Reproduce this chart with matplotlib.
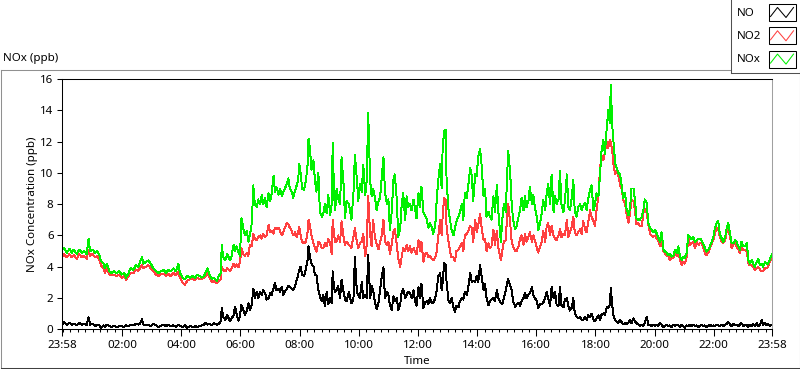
import matplotlib
matplotlib.use("Agg")
import matplotlib.pyplot as plt
from matplotlib.lines import Line2D
from matplotlib.patches import Rectangle

plt.rcParams['font.family'] = ['Noto Sans', 'DejaVu Sans']

# time of each sample, minutes after midnight (23:58 of the day before = -2)
minutes = [
    -2, 2, 8, 13, 18, 22, 28, 33, 38, 43, 48, 52, 55, 60, 65, 70, 74, 77, 82, 85,
    89, 94, 99, 103, 109, 114, 119, 124, 128, 133, 137, 143, 148, 153, 156, 160, 163, 168, 173, 178,
    183, 189, 193, 198, 204, 209, 214, 218, 224, 229, 234, 237, 243, 247, 252, 258, 263, 268, 272, 278,
    281, 286, 289, 293, 297, 302, 306, 312, 316, 320, 322, 325, 329, 333, 339, 342, 346, 349, 352, 356,
    359, 362, 366, 369, 373, 376, 379, 383, 386, 389, 393, 396, 400, 403, 406, 410, 413, 417, 420, 423,
    427, 430, 433, 437, 440, 444, 447, 450, 454, 457, 460, 464, 467, 471, 474, 477, 479, 482, 485, 489,
    493, 496, 498, 501, 504, 508, 511, 514, 518, 521, 525, 528, 531, 535, 538, 542, 545, 547, 550, 552,
    555, 558, 562, 565, 569, 572, 575, 580, 585, 589, 592, 596, 599, 602, 606, 609, 613, 616, 619, 623,
    626, 629, 633, 636, 640,
    643, 646, 650, 653, 657, 660, 663, 667, 670, 673, 677, 680, 684, 687, 690, 694, 697, 700, 704, 707,
    711, 714, 717, 721, 724, 727, 731, 734, 738, 741, 744, 748, 751, 755, 758, 761, 765, 768, 770, 773,
    776, 778, 782, 785, 788, 792, 795, 798, 802, 805, 809, 812, 815, 819, 822, 826, 829, 832, 836, 839,
    842, 846, 849, 853, 856, 859, 863, 866, 869, 873, 876, 880, 883, 888, 891, 894, 898, 901, 903, 907,
    910, 913, 917, 920, 924, 927, 930, 934, 937, 940, 944, 947, 951, 954, 957, 961, 964, 967, 971, 974,
    978, 981, 984, 988, 991, 995, 998, 1001, 1005,
    1008, 1011, 1015, 1018, 1022, 1025, 1028, 1032, 1035, 1038, 1042, 1045, 1049, 1052, 1055, 1059, 1062, 1065, 1069, 1072,
    1076, 1079, 1082, 1086, 1089, 1092, 1096, 1099, 1103, 1106, 1109, 1111, 1114, 1116, 1120, 1123, 1126, 1130, 1133, 1136,
    1140, 1143, 1147, 1150, 1153, 1157, 1160, 1163, 1167, 1170, 1174, 1177, 1180, 1184, 1187, 1191, 1194, 1197, 1201, 1204,
    1207, 1211, 1214, 1218, 1221, 1224, 1228, 1231, 1234, 1238, 1241, 1245, 1248, 1251, 1255, 1258, 1261, 1265, 1268, 1272,
    1275, 1278, 1282, 1285, 1289, 1292, 1295, 1299, 1302, 1305, 1309, 1312, 1316, 1319, 1322, 1326, 1329, 1332, 1336, 1339,
    1343, 1346, 1349, 1353, 1356, 1360, 1363, 1366, 1370, 1373, 1376, 1380, 1383, 1387, 1390, 1393, 1397, 1400, 1403, 1407,
    1410, 1414, 1417, 1420, 1424, 1427, 1430, 1434, 1437, 1438,
]

nox = [
    5.1, 5.2, 4.9, 5.15, 4.9, 5.1, 4.8, 5.1, 4.9, 5.0, 4.8, 5.8, 5.0, 5.1, 4.9, 5.0, 4.7, 4.4, 4.2, 3.9,
    4.2, 3.7, 3.6, 3.7, 3.6, 3.7, 3.5, 3.6, 3.3, 3.6, 3.9, 3.8, 4.1, 4.0, 4.3, 4.6, 4.2, 4.3, 4.4, 4.2,
    3.9, 3.7, 3.6, 3.7, 3.8, 3.6, 3.8, 3.7, 3.9, 3.7, 4.2, 3.6, 3.3, 3.2, 3.4, 3.3, 3.4, 3.3, 3.5, 3.4,
    3.3, 3.4, 3.6, 3.9, 3.5, 3.2, 3.3, 3.1, 3.4, 3.6, 5.4, 4.6, 4.4, 4.8, 4.4, 4.7, 5.4, 5.0, 5.3, 4.9,
    4.7, 7.1, 6.4, 6.0, 6.3, 5.6, 6.0, 6.8, 9.2, 8.0, 7.8, 8.3, 8.0, 8.6, 8.0, 8.4, 7.8, 8.7, 8.2, 8.6,
    9.8, 8.8, 9.1, 8.6, 9.0, 8.5, 8.8, 9.0, 9.3, 9.65, 9.0, 8.8, 8.4, 8.9, 9.2, 9.5, 10.6, 10.0, 9.0, 8.9,
    9.6, 10.5, 12.2, 11.5, 10.2, 10.8, 9.5, 8.8, 10.0, 7.5, 7.2, 7.4, 8.0, 7.4, 8.6, 7.3, 8.0, 11.9, 8.5, 7.6,
    9.0, 8.4, 8.0, 11.0, 9.3, 7.1, 8.2, 8.0, 7.0, 8.6, 11.15, 9.6, 8.2, 9.3, 8.8, 10.5, 8.6, 9.5, 13.8, 9.5,
    8.5, 9.0, 8.4, 7.6, 8.2,
    8.4, 9.5, 11.0, 8.8, 8.0, 8.3, 6.35, 7.6, 9.5, 9.9, 8.3, 5.9, 6.5, 8.0, 8.7, 7.0, 8.5, 7.8, 8.0, 7.6,
    8.3, 7.7, 7.1, 8.7, 7.8, 9.1, 7.5, 7.3, 7.0, 6.5, 6.8, 6.5, 6.1, 6.6, 8.3, 9.5, 10.6, 9.0, 11.6, 12.65,
    12.75, 9.5, 7.6, 7.0, 6.35, 6.0, 6.5, 6.9, 7.2, 7.5, 8.0, 7.0, 8.7, 8.4, 9.2, 10.3, 9.8, 8.2, 9.9, 9.8,
    11.0, 11.5, 10.5, 8.5, 9.0, 7.2, 7.5, 7.2, 7.0, 8.5, 7.5, 9.2, 7.5, 5.6, 7.0, 8.0, 7.5, 10.0, 11.4, 10.0,
    8.0, 7.0, 6.4, 6.6, 7.2, 7.6, 8.4, 7.6, 8.5, 7.8, 8.2, 9.1, 8.0, 8.6, 7.8, 7.2, 6.35, 6.7, 7.4, 8.3,
    7.6, 8.7, 9.3, 8.0, 9.9, 7.5, 8.5, 8.0, 8.3,
    10.1, 8.0, 7.5, 8.2, 9.9, 7.8, 7.6, 8.4, 9.55, 7.5, 7.2, 7.8, 8.0, 7.6, 7.9, 8.1, 7.6, 8.3, 8.9, 9.2,
    7.6, 8.0, 8.7, 8.5, 9.8, 11.3, 12.1, 11.2, 12.96, 14.0, 13.2, 15.6, 13.0, 12.2, 10.6, 10.3, 10.0, 9.9, 9.2, 8.4,
    8.7, 7.7, 7.3, 7.7, 9.0, 9.0, 8.3, 7.1, 7.0, 7.0, 7.2, 7.6, 8.3, 8.06, 6.8, 6.46, 6.35, 6.2, 6.35, 6.14,
    5.9, 5.6, 6.2, 5.07, 4.97, 4.9, 4.75, 4.8, 4.65, 4.7, 5.07, 4.9, 5.3, 4.7, 4.43, 4.65, 4.55, 4.9, 6.0, 5.9,
    5.75, 5.9, 5.6, 5.7, 5.8, 5.8, 5.7, 5.4, 5.2, 4.97, 5.1, 5.3, 5.6, 5.9, 6.46, 6.8, 6.9, 6.14, 5.8, 5.6,
    5.9, 6.46, 6.8, 6.14, 5.5, 5.5, 5.7, 5.6, 5.3, 5.07, 5.6, 5.3, 5.3, 5.5, 4.43, 4.2, 4.45, 4.2, 4.0, 4.3,
    4.5, 4.1, 4.2, 4.0, 4.3, 4.2, 4.2, 4.5, 4.7, 4.8,
]

no2 = [
    4.6, 4.8, 4.6, 4.8, 4.6, 4.75, 4.5, 4.8, 4.6, 4.7, 4.5, 5.1, 4.7, 4.8, 4.6, 4.7, 4.4, 4.1, 3.9, 3.6,
    3.9, 3.5, 3.45, 3.5, 3.4, 3.5, 3.3, 3.4, 3.15, 3.4, 3.6, 3.6, 3.8, 3.75, 3.9, 4.1, 3.9, 4.0, 4.1, 3.9,
    3.7, 3.5, 3.4, 3.5, 3.55, 3.4, 3.55, 3.4, 3.6, 3.45, 3.7, 3.3, 2.95, 2.85, 3.1, 3.2, 3.2, 3.15, 3.3, 3.2,
    3.2, 3.3, 3.4, 3.6, 3.3, 3.0, 3.1, 2.95, 3.1, 3.2, 4.0, 3.8, 3.7, 3.9, 3.75, 3.9, 4.2, 4.0, 4.15, 3.95,
    4.3, 5.2, 4.8, 4.7, 4.9, 4.7, 5.4, 5.3, 6.1, 5.8, 5.7, 5.9, 6.0, 5.8, 6.1, 5.9, 6.0, 6.7, 6.2, 6.3,
    6.1, 6.5, 6.4, 6.5, 6.3, 6.0, 6.2, 6.5, 6.8, 6.7, 6.5, 6.3, 6.0, 6.2, 5.9, 6.2, 6.56, 6.0, 5.6, 5.5,
    5.6, 6.2, 7.0, 6.6, 6.0, 5.5, 5.2, 4.97, 5.6, 5.5, 5.2, 5.2, 5.5, 5.3, 5.8, 5.5, 4.8, 7.0, 6.0, 5.6,
    5.6, 6.0, 5.6, 6.9, 5.9, 5.4, 5.6, 5.4, 5.2, 5.9, 6.46, 5.6, 5.2, 5.5, 5.6, 6.1, 4.65, 5.4, 8.5, 6.0,
    5.3, 7.0, 5.8, 5.5, 5.1,
    5.6, 5.9, 7.0, 5.6, 5.4, 5.6, 4.8, 5.5, 6.2, 6.4, 5.4, 4.5, 4.0, 4.65, 5.2, 5.0, 5.4, 5.0, 5.3, 4.9,
    5.2, 4.97, 4.8, 5.7, 5.0, 5.6, 4.33, 4.8, 4.9, 4.6, 4.7, 4.5, 4.4, 4.6, 5.0, 5.9, 7.0, 6.0, 7.2, 8.4,
    8.3, 6.5, 5.6, 5.0, 4.6, 4.6, 4.35, 5.0, 5.1, 5.3, 5.5, 5.0, 6.0, 6.1, 6.3, 6.6, 6.5, 5.6, 7.0, 6.2,
    6.6, 7.4, 6.5, 5.7, 5.8, 5.0, 5.5, 5.2, 5.3, 6.35, 5.4, 6.3, 5.2, 4.4, 5.0, 5.6, 5.7, 7.4, 8.0, 6.8,
    5.6, 5.3, 5.0, 5.0, 5.3, 5.8, 6.0, 5.4, 6.1, 5.6, 5.9, 6.2, 5.6, 6.0, 5.7, 5.2, 4.9, 5.2, 5.6, 6.3,
    5.6, 6.6, 6.8, 6.0, 6.6, 6.0, 5.8, 5.7, 6.0,
    6.4, 5.9, 6.1, 6.0, 7.0, 5.9, 6.2, 6.6, 7.2, 6.2, 6.0, 6.2, 6.4, 6.1, 6.9, 6.4, 6.2, 6.8, 7.6, 7.2,
    6.9, 6.6, 7.6, 8.5, 10.2, 11.15, 10.8, 11.3, 12.0, 11.6, 12.1, 12.0, 11.4, 10.6, 9.9, 10.1, 9.9, 9.2, 9.0, 8.3,
    8.06, 7.4, 6.8, 7.4, 8.3, 8.2, 7.6, 6.7, 6.8, 6.6, 6.6, 7.4, 7.7, 7.4, 6.7, 6.1, 6.0, 5.9, 6.0, 5.8,
    5.7, 5.3, 5.6, 4.97, 4.86, 4.75, 4.65, 4.43, 4.55, 4.6, 4.86, 4.7, 4.97, 4.5, 4.1, 4.3, 4.2, 4.6, 5.9, 5.4,
    5.5, 5.6, 5.2, 5.6, 5.4, 5.5, 5.5, 5.2, 4.86, 4.75, 4.9, 5.2, 5.5, 5.7, 6.1, 6.46, 6.4, 5.9, 5.6, 5.5,
    5.7, 6.25, 6.46, 5.9, 5.2, 5.4, 5.6, 5.3, 5.1, 4.86, 5.3, 5.07, 5.1, 5.0, 4.2, 4.1, 4.1, 4.0, 3.8, 3.9,
    4.0, 3.8, 3.7, 3.75, 3.9, 3.9, 4.0, 4.4, 4.5, 4.55,
]

no = [
    0.3, 0.45, 0.3, 0.4, 0.3, 0.35, 0.25, 0.4, 0.3, 0.35, 0.25, 0.77, 0.3, 0.35, 0.2, 0.3, 0.25, 0.1, 0.25, 0.15,
    0.3, 0.2, 0.15, 0.2, 0.15, 0.2, 0.2, 0.15, 0.25, 0.2, 0.3, 0.25, 0.35, 0.3, 0.35, 0.64, 0.3, 0.25, 0.3, 0.2,
    0.35, 0.25, 0.15, 0.2, 0.3, 0.2, 0.3, 0.2, 0.25, 0.15, 0.3, 0.2, 0.15, 0.25, 0.1, 0.2, 0.15, 0.2, 0.15, 0.2,
    0.25, 0.3, 0.4, 0.3, 0.35, 0.25, 0.4, 0.3, 0.35, 0.5, 1.34, 0.8, 0.6, 0.9, 0.5, 0.7, 0.9, 1.45, 1.0, 0.55,
    0.9, 1.55, 1.2, 0.9, 1.2, 1.66, 1.2, 1.6, 2.6, 2.0, 2.4, 2.0, 2.4, 2.2, 2.5, 2.3, 1.9, 2.0, 2.3, 2.2,
    2.6, 2.95, 2.5, 2.6, 2.4, 2.7, 2.2, 2.4, 2.6, 2.8, 2.7, 2.6, 2.5, 2.8, 3.15, 3.5, 3.8, 4.0, 3.5, 3.4,
    3.9, 4.4, 5.3, 4.6, 4.2, 4.0, 3.5, 3.5, 2.5, 2.1, 1.8, 2.2, 1.5, 2.4, 1.6, 2.0, 1.7, 3.7, 2.6, 2.4,
    2.5, 2.8, 2.0, 3.15, 2.4, 1.9, 1.8, 2.4, 1.65, 1.9, 4.6, 2.4, 2.2, 2.0, 3.0, 2.0, 2.2, 2.0, 4.75, 2.0,
    2.8, 2.5, 1.66, 1.3, 1.7,
    2.5, 3.26, 3.97, 2.0, 2.4, 2.2, 1.55, 1.24, 2.1, 1.8, 2.0, 1.24, 1.6, 2.4, 2.6, 2.0, 2.2, 2.4, 2.3, 2.0,
    2.5, 1.8, 1.5, 2.7, 2.0, 2.9, 1.34, 1.7, 1.8, 1.6, 2.0, 1.7, 1.66, 2.0, 2.5, 3.37, 3.58, 2.5, 3.0, 4.22,
    4.1, 3.0, 1.8, 1.7, 2.0, 1.4, 1.13, 1.5, 1.4, 1.8, 2.0, 1.9, 2.4, 2.2, 2.7, 3.58, 3.0, 3.1, 3.05, 3.4,
    3.0, 4.1, 3.4, 2.5, 2.9, 2.0, 1.55, 1.8, 1.9, 2.0, 1.8, 2.5, 2.0, 1.7, 1.6, 2.0, 2.5, 3.0, 3.2, 2.8,
    2.5, 1.8, 1.45, 1.6, 1.7, 1.5, 1.8, 2.0, 2.3, 2.0, 2.2, 2.3, 2.7, 2.2, 2.0, 1.8, 1.34, 1.6, 1.6, 1.7,
    2.0, 2.4, 2.0, 1.5, 2.7, 2.0, 2.4, 1.6, 1.5,
    2.7, 1.55, 1.4, 1.9, 2.0, 1.5, 1.2, 1.4, 2.0, 1.0, 0.81, 0.7, 0.8, 0.6, 0.6, 0.8, 0.6, 0.9, 0.8, 1.0,
    0.6, 0.5, 0.7, 0.9, 0.6, 0.9, 1.02, 0.9, 1.45, 1.34, 1.56, 2.62, 1.6, 0.9, 0.6, 0.5, 0.38, 0.6, 0.45, 0.32,
    0.4, 0.35, 0.45, 0.6, 0.4, 0.7, 0.5, 0.4, 0.3, 0.21, 0.3, 0.2, 0.4, 0.77, 0.3, 0.3, 0.2, 0.3, 0.2, 0.3,
    0.2, 0.4, 0.3, 0.13, 0.2, 0.3, 0.2, 0.25, 0.15, 0.3, 0.2, 0.3, 0.25, 0.15, 0.3, 0.2, 0.1, 0.25, 0.2, 0.3,
    0.2, 0.3, 0.2, 0.25, 0.15, 0.2, 0.3, 0.2, 0.25, 0.15, 0.2, 0.3, 0.2, 0.25, 0.2, 0.3, 0.25, 0.2, 0.3, 0.2,
    0.3, 0.35, 0.49, 0.3, 0.2, 0.35, 0.25, 0.3, 0.2, 0.3, 0.4, 0.2, 0.3, 0.25, 0.15, 0.3, 0.2, 0.35, 0.2, 0.4,
    0.2, 0.3, 0.6, 0.3, 0.4, 0.25, 0.35, 0.2, 0.3, 0.3,
]

series_names = ['NO', 'NO2', 'NOx']
series_colors = ['black', '#ff4040', '#00f000']

tick_minutes = [-2, 120, 240, 360, 480, 600, 720, 840, 960, 1080, 1200, 1320, 1438]
tick_labels = ['23:58', '02:00', '04:00', '06:00', '08:00', '10:00', '12:00',
               '14:00', '16:00', '18:00', '20:00', '22:00', '23:58']

W, H = 800, 369


def fx(x):
    return x / W


def fy(y):
    return 1 - y / H


fig = plt.figure(figsize=(W / 100, H / 100), dpi=100)
ax = fig.add_axes([fx(62), fy(329.3), 710 / W, 250.3 / H])

for vals, col in zip([no, no2, nox], series_colors):
    ax.plot(minutes, vals, color=col, lw=0.7, antialiased=False)

ax.set_xlim(-2, 1438)
ax.set_ylim(0, 16)
ax.set_xticks(tick_minutes)
ax.set_xticklabels(tick_labels)
ax.set_xticks(list(range(0, 1440, 15)), minor=True)
ax.set_yticks(range(0, 17, 2))

ax.tick_params(axis='x', which='major', direction='out', length=5, width=0.75,
               pad=3, labelsize=8.3)
ax.tick_params(axis='x', which='minor', direction='out', length=2.4, width=0.75)
ax.tick_params(axis='y', which='major', direction='out', length=3.6, width=0.75,
               pad=2.5, labelsize=8.3)
for s in ['left', 'bottom', 'top']:
    ax.spines[s].set_linewidth(0.75)
    ax.spines[s].set_color('black')
ax.spines['right'].set_color('#a0a0a0')
ax.spines['right'].set_linewidth(0.75)

fig.text(fx(32.5), fy(204), 'NOx Concentration (ppb)', rotation=90,
         ha='center', va='center', fontsize=8.3)
fig.text(fx(417), fy(361), 'Time', ha='center', va='center', fontsize=8.3)
fig.text(fx(3), fy(58.5), 'NOx (ppb)', ha='left', va='center', fontsize=8.3)

# panel frame
frame = [
    ((0.5, 731), (69.5, 69.5), '#909090'),
    ((0.5, 0.5), (69.5, 367.5), '#909090'),
    ((0.5, 799.5), (367.5, 367.5), '#404040'),
    ((799.5, 799.5), (69.5, 367.5), '#404040'),
    ((731, 731), (0, 72.5), '#505050'),
    ((731, 800), (72.5, 72.5), '#505050'),
]
for xs, ys, col in frame:
    fig.add_artist(Line2D([fx(x) for x in xs], [fy(y) for y in ys],
                          color=col, lw=0.75, transform=fig.transFigure))

# legend
for i, (name, col) in enumerate(zip(series_names, series_colors)):
    top = 4 + i * 23.3
    fig.text(fx(737), fy(top + 9), name, ha='left', va='center', fontsize=8.3)
    fig.add_artist(Rectangle((fx(768.5), fy(top + 17)), 27 / W, 17 / H,
                             facecolor='white', edgecolor='black', lw=0.75,
                             transform=fig.transFigure))
    zx = [770.5, 777.5, 786, 793.5]
    zy = [top + 12.5, top + 3.5, top + 13.5, top + 3.5]
    fig.add_artist(Line2D([fx(x) for x in zx], [fy(y) for y in zy],
                          color=col, lw=0.75, transform=fig.transFigure))

fig.savefig('out.png', dpi=100)
